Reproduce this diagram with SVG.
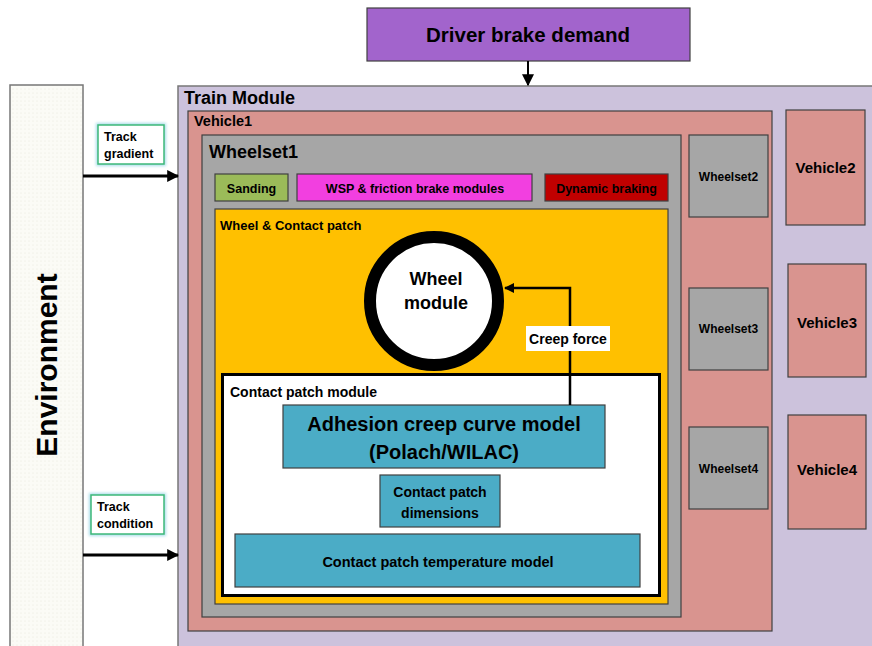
<svg xmlns="http://www.w3.org/2000/svg" width="872" height="646" viewBox="0 0 872 646">
<defs>
<style>
text{font-family:"Liberation Sans",Arial,sans-serif;font-weight:bold;fill:#000}
.c{text-anchor:middle}
.box{stroke:#404040;stroke-width:1.2}
.ws{fill:#a6a6a6}
.veh{fill:#d9948f}
.blue{fill:#4bacc6}
.conn{stroke:#000;fill:none}
</style>
<marker id="ah" viewBox="0 0 10 10" refX="9" refY="5" markerWidth="4" markerHeight="4" orient="auto" markerUnits="strokeWidth">
<path d="M0,0 L10,5 L0,10 z" fill="#000"/>
</marker>
<marker id="ah2" viewBox="0 0 10 10" refX="9" refY="5" markerWidth="6" markerHeight="6" orient="auto" markerUnits="strokeWidth">
<path d="M0,0 L10,5 L0,10 z" fill="#000"/>
</marker>
<filter id="glow" x="-20%" y="-20%" width="140%" height="140%">
<feGaussianBlur stdDeviation="1.5"/>
</filter>
<pattern id="dots" width="4" height="4" patternUnits="userSpaceOnUse">
<rect width="4" height="4" fill="#fbfbf6"/>
<circle cx="1" cy="1" r="0.5" fill="#e6e6d8"/>
</pattern>
</defs>
<rect width="872" height="646" fill="#fff"/>

<g id="environment">
<rect x="10" y="85" width="73" height="570" fill="url(#dots)" stroke="#777" stroke-width="1.5"/>
<text class="c" transform="translate(57,365) rotate(-90)" font-size="30">Environment</text>
</g>

<g id="driver-brake-demand">
<rect class="box" x="367" y="8" width="323" height="53" fill="#a264cc"/>
<text class="c" x="528" y="42" font-size="20.5">Driver brake demand</text>
</g>

<g id="train-module">
<rect x="178" y="86" width="700" height="570" fill="#ccc2dc" stroke="#777" stroke-width="1.5"/>
<text x="184" y="104" font-size="18">Train Module</text>
</g>

<g id="vehicle1">
<rect class="box veh" x="188" y="111" width="584" height="520"/>
<text x="194" y="126" font-size="14.5">Vehicle1</text>
</g>

<g id="wheelset1">
<rect class="box ws" x="202" y="135" width="479" height="482"/>
<text x="209" y="158" font-size="18">Wheelset1</text>
</g>

<g id="sanding">
<rect class="box" x="215" y="174" width="73" height="27" fill="#9bbb59"/>
<text class="c" x="251.5" y="192.5" font-size="12.5">Sanding</text>
</g>

<g id="wsp">
<rect class="box" x="297" y="174" width="235" height="27" fill="#f23fe0"/>
<text class="c" x="415" y="192.5" font-size="12.5">WSP &amp; friction brake modules</text>
</g>

<g id="dynamic-braking">
<rect class="box" x="545" y="174" width="123" height="27" fill="#c00000"/>
<text class="c" x="606.5" y="192.5" font-size="12.5">Dynamic braking</text>
</g>

<g id="wheel-contact-patch">
<rect class="box" x="215" y="209" width="453" height="395" fill="#ffc000"/>
<text x="220" y="230" font-size="13">Wheel &amp; Contact patch</text>
</g>

<g id="wheel-module">
<circle cx="434" cy="301" r="64" fill="#fff" stroke="#000" stroke-width="12"/>
<text class="c" x="436" y="285" font-size="18">Wheel</text>
<text class="c" x="436" y="309" font-size="18">module</text>
</g>

<g id="contact-patch-module">
<rect x="222.5" y="374.5" width="437" height="221" fill="#fff" stroke="#000" stroke-width="3"/>
<text x="230" y="397" font-size="14">Contact patch module</text>
</g>

<g id="adhesion">
<rect class="box blue" x="283" y="405" width="322" height="63"/>
<text class="c" x="444" y="431" font-size="20">Adhesion creep curve model</text>
<text class="c" x="444" y="459" font-size="20">(Polach/WILAC)</text>
</g>

<g id="contact-patch-dimensions">
<rect class="box blue" x="380" y="475" width="120" height="52"/>
<text class="c" x="440" y="497" font-size="14">Contact patch</text>
<text class="c" x="440" y="518" font-size="14">dimensions</text>
</g>

<g id="contact-patch-temperature">
<rect class="box blue" x="235" y="534" width="405" height="53"/>
<text class="c" x="438" y="567" font-size="14.5">Contact patch temperature model</text>
</g>

<g id="wheelset2">
<rect class="box ws" x="689" y="135" width="79" height="82"/>
<text class="c" x="728.5" y="181" font-size="12">Wheelset2</text>
</g>
<g id="wheelset3">
<rect class="box ws" x="689" y="288" width="79" height="82"/>
<text class="c" x="728.5" y="333" font-size="12">Wheelset3</text>
</g>
<g id="wheelset4">
<rect class="box ws" x="689" y="427" width="79" height="82"/>
<text class="c" x="728.5" y="473" font-size="12">Wheelset4</text>
</g>

<g id="vehicle2">
<rect class="box veh" x="786" y="110" width="79" height="115"/>
<text class="c" x="825.5" y="173" font-size="15">Vehicle2</text>
</g>
<g id="vehicle3">
<rect class="box veh" x="788" y="264" width="78" height="113"/>
<text class="c" x="827" y="328" font-size="15">Vehicle3</text>
</g>
<g id="vehicle4">
<rect class="box veh" x="788" y="415" width="78" height="114"/>
<text class="c" x="827" y="475" font-size="15">Vehicle4</text>
</g>

<g id="track-gradient">
<rect x="98" y="125" width="66" height="39" fill="none" stroke="#a8dde8" stroke-width="4" filter="url(#glow)"/>
<rect x="98" y="125" width="66" height="39" fill="#fff" stroke="#3cb878" stroke-width="1.5"/>
<text x="104" y="141" font-size="12.5" style="font-weight:600">Track</text>
<text x="104" y="158" font-size="12.5" style="font-weight:600">gradient</text>
</g>

<g id="track-condition">
<rect x="91" y="495" width="73" height="39" fill="none" stroke="#a8dde8" stroke-width="4" filter="url(#glow)"/>
<rect x="91" y="495" width="73" height="39" fill="#fff" stroke="#3cb878" stroke-width="1.5"/>
<text x="97" y="511" font-size="12.5" style="font-weight:600">Track</text>
<text x="97" y="528" font-size="12.5" style="font-weight:600">condition</text>
</g>

<g id="connectors">
<line class="conn" x1="528" y1="61" x2="528" y2="85" stroke-width="2" marker-end="url(#ah2)"/>
<line class="conn" x1="83" y1="176" x2="178" y2="176" stroke-width="3" marker-end="url(#ah)"/>
<line class="conn" x1="83" y1="555" x2="178" y2="555" stroke-width="3" marker-end="url(#ah)"/>
<polyline class="conn" points="570,405 570,288 505,288" stroke-width="2.5" marker-end="url(#ah)"/>
<rect x="526" y="326" width="84" height="25" fill="#fff"/>
<text class="c" x="568" y="344" font-size="14" style="font-weight:600">Creep force</text>
</g>
</svg>
